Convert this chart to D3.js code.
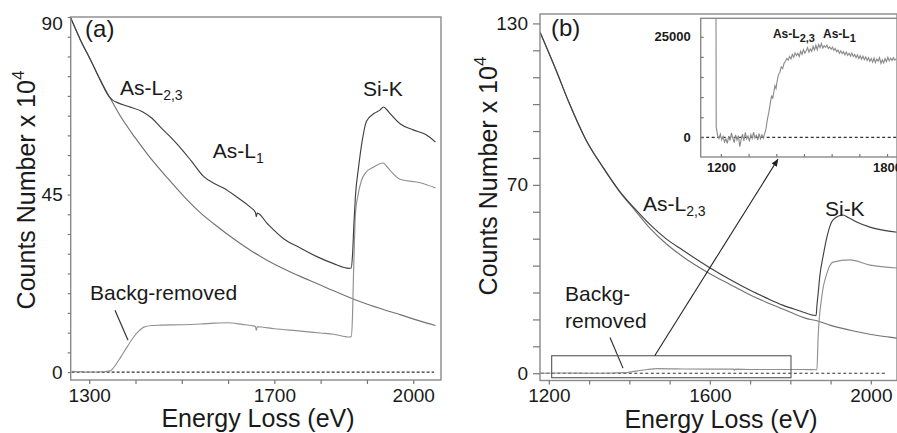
<!DOCTYPE html>
<html>
<head>
<meta charset="utf-8">
<script src="https://cdn.jsdelivr.net/npm/d3@7"></script>
<style>
  body { margin: 0; background: #fff; }
  svg { display: block; }
  text { font-family: Arial, "Liberation Sans", sans-serif; fill: #1a1a1a; }
</style>
</head>
<body>
<div id="chart"></div>
<script>
// ---- panel (a) data: [energy eV, counts x1e4] ----
const rawA = [[1260,89.8],[1281,84.2],[1303,79.1],[1324,74.0],[1343,69.8],[1352,68.8],[1361,68.3],[1385,67.3],
  [1415,66.0],[1435,64.4],[1454,62.1],[1472,60.0],[1490,57.8],[1520,53.6],[1547,49.6],[1570,47.8],[1591,46.6],
  [1620,44.3],[1648,41.8],[1659,40.5],[1661,39.4],[1663,40.3],[1685,37.6],[1720,33.8],[1757,31.4],[1793,29.2],
  [1828,27.5],[1861,26.3],[1866,26.4],[1869,30],[1872,38],[1875,44.4],[1882,52],[1890,58.8],[1899,63.6],
  [1916,65.6],[1928,66.4],[1936,67.2],[1943,66.5],[1951,65.4],[1973,62.8],[2000,61.4],[2027,60.2],[2048,58.3]];
const bgA = [[1260,89.8],[1281,84.2],[1303,79.1],[1324,74.0],[1346,69.3],[1371,64.2],[1398,59.6],[1426,55.2],
  [1469,49.2],[1512,43.6],[1541,40.3],[1580,36.6],[1612,33.8],[1648,30.9],[1685,28.3],[1720,26.2],[1757,24.2],
  [1793,22.4],[1828,20.6],[1865,18.8],[1901,17.2],[1937,15.8],[1973,14.5],[2010,13.1],[2048,11.8]];
const removedA = [[1262,0.2],[1300,0],[1330,0.1],[1345,0.3],[1358,2.0],[1368,3.8],[1382,6.4],[1396,8.9],[1408,10.5],
  [1418,11.4],[1435,11.8],[1454,11.9],[1500,12.0],[1541,12.2],[1570,12.4],[1599,12.5],[1630,12.1],[1659,11.6],
  [1661,10.6],[1663,11.5],[1700,11.0],[1757,10.4],[1800,9.9],[1828,9.6],[1862,8.9],[1866,9.0],[1869,15],[1871,25],
  [1873,33],[1875,39.8],[1881,45],[1888,48.5],[1897,50.5],[1915,52.0],[1935,53.0],[1945,51.8],[1951,51.0],
  [1973,48.8],[2015,48.0],[2048,46.7]];

// ---- panel (b) data ----
const rawB = [[1178,126.8],[1218,112.6],[1250,100.6],[1292,86.8],[1335,76.4],[1375,67.8],[1417,60.6],[1451,55.3],
  [1490,50.1],[1533,45.7],[1600,39.2],[1650,34.8],[1699,30.9],[1740,28.0],[1781,25.3],[1820,23.3],[1856,21.6],
  [1864,21.4],[1866,25],[1870,31],[1873,35.8],[1882,44],[1891,50.7],[1906,57],[1931,58.8],[1945,57.8],
  [1966,56.1],[1998,54.3],[2030,53.2],[2065,52.4]];
const bgB = [[1178,126.8],[1218,112.6],[1250,100.6],[1292,86.8],[1335,76.4],[1375,67.6],[1417,60.0],[1451,53.9],
  [1490,48.3],[1533,43.3],[1600,37.0],[1650,33.0],[1699,29.2],[1740,26.4],[1781,23.9],[1841,20.3],[1866,19.5],
  [1900,17.8],[1960,15.6],[2000,14.4],[2047,13.4],[2065,13.0]];
const removedB = [[1178,0],[1250,0.1],[1300,0],[1360,0.1],[1390,0.2],[1405,0.5],[1420,0.9],[1430,1.1],[1445,1.4],
  [1470,1.7],[1520,1.6],[1600,1.5],[1659,1.5],[1661,1.0],[1663,1.5],[1700,1.4],[1780,1.4],[1830,1.4],[1866,1.3],
  [1869,13.4],[1878,28.3],[1891,37.2],[1906,41.3],[1948,42.1],[1998,40.2],[2065,39.1]];

// ---- inset: background-removed counts (1200-1800 eV) ----
const insetE = [1182,1183,1188,1193,1198,1203,1208,1213,1218,1223,1228,1233,1238,1243,1248,1253,1258,1263,1268,1273,
  1278,1283,1288,1293,1298,1303,1308,1313,1318,1323,1328,1333,1338,1343,1348,1353,1358,1363,1368,1373,1378,1383,
  1387,1391,1395,1399,1403,1408,1413,1418,1423,1428,1433,1438,1443,1448,1453,1458,1463,1468,1473,1478,1483,1488,
  1493,1498,1503,1508,1513,1518,1523,1528,1533,1538,1543,1548,1553,1558,1563,1568,1573,1578,1583,1588,1593,1598,
  1603,1608,1613,1618,1623,1628,1633,1638,1643,1648,1653,1658,1663,1668,1673,1678,1683,1688,1693,1698,1703,1708,
  1713,1718,1723,1728,1733,1738,1743,1748,1753,1758,1763,1768,1773,1778,1783,1788,1793,1798,1803,1808,1813,1818,
  1823,1828,1833];
const insetCounts = [40000,2600,400,-300,800,-600,200,-1200,-400,-1500,300,-800,1100,-200,-1300,600,-700,400,-2300,-600,
  800,-900,1200,-400,300,-1000,700,-300,1300,-200,500,-700,900,-400,600,-200,900,2200,4500,6200,8300,10400,
  9600,11200,12800,12100,14000,15600,16200,17500,17100,18400,18900,19600,19200,20100,19500,20600,19900,21000,20300,20900,20100,21400,
  20600,21800,20900,21500,22300,21200,22000,21400,22600,21700,22900,21800,23100,22300,23300,22200,22800,22400,22900,22100,22500,21900,
  22400,21600,22100,21300,21700,20900,21500,20800,21300,20500,21200,20400,20900,20200,21000,20100,20600,19800,20500,19600,20300,19400,
  20200,19300,20000,19100,19800,18900,19600,18700,19700,18600,19500,18900,19800,18400,19300,18500,19600,18800,19900,19000,19700,19100,
  19800,19200,19500];

// ---- ticks ----
const yTicksA = d3.range(0, 91, 5), yLabelsA = [0, 45, 90];
const xTicksA = d3.range(1300, 2001, 100), xLabelsA = [1300, 1700, 2000];
const yTicksB = d3.range(0, 131, 10), yLabelsB = [0, 70, 130];
const xTicksB = d3.range(1200, 2001, 100), xLabelsB = [1200, 1600, 2000];
const yTicksI = d3.range(0, 25001, 5000), yLabelsI = [0, 25000];
const xTicksI = d3.range(1200, 1801, 100), xLabelsI = [1200, 1800];

const svg = d3.select("#chart").append("svg")
  .attr("width", 897).attr("height", 433)
  .style("background", "#fff");

const xA = d3.scaleLinear([1260, 2060], [70.7, 441]);
const yA = d3.scaleLinear([-2, 90], [380, 17]);
const xB = d3.scaleLinear([1178, 2065], [540, 897]);
const yB = d3.scaleLinear([-2.7, 133.5], [380.5, 14]);
const xI = d3.scaleLinear([1127, 1836], [700.7, 897]);
const yI = d3.scaleLinear([-4900, 29600], [157, 18.3]);

const RAW = "#404040", BG = "#727272", REM = "#909090", FRAME = "#8a8a8a";

function clip(id, x, y) {
  svg.append("clipPath").attr("id", id).append("rect")
    .attr("x", x.range()[0]).attr("y", y.range()[1])
    .attr("width", x.range()[1] - x.range()[0]).attr("height", y.range()[0] - y.range()[1]);
}

function frame(x, y) {
  svg.append("rect")
    .attr("x", x.range()[0]).attr("y", y.range()[1])
    .attr("width", x.range()[1] - x.range()[0]).attr("height", y.range()[0] - y.range()[1])
    .attr("fill", "none").attr("stroke", FRAME).attr("stroke-width", 1.4);
}

function curve(data, x, y, color, clipId, width) {
  svg.append("path").datum(data)
    .attr("clip-path", `url(#${clipId})`)
    .attr("fill", "none").attr("stroke", color).attr("stroke-width", width || 1.15)
    .attr("stroke-linejoin", "round")
    .attr("d", d3.line().x(d => x(d[0])).y(d => y(d[1])).curve(d3.curveMonotoneX));
}

function zeroLine(x, y, e0, e1, dash) {
  svg.append("line")
    .attr("x1", x(e0)).attr("x2", x(e1)).attr("y1", y(0)).attr("y2", y(0))
    .attr("stroke", "#333").attr("stroke-width", 1.2).attr("stroke-dasharray", dash);
}

function axes(x, y, xt, xl, yt, yl, o) {
  const fx = d => xl.includes(d) ? String(d) : "";
  const fy = d => yl.includes(d) ? String(d) : "";
  const gx = svg.append("g").attr("transform", `translate(0,${y.range()[0]})`)
    .call(d3.axisBottom(x).tickValues(xt).tickSize(o.xTick).tickPadding(o.xPad).tickFormat(fx));
  const gy = svg.append("g").attr("transform", `translate(${x.range()[0]},0)`)
    .call(d3.axisLeft(y).tickValues(yt).tickSize(o.yTick).tickPadding(o.yPad).tickFormat(fy));
  [gx, gy].forEach(g => {
    g.select(".domain").remove();
    g.selectAll(".tick line").attr("stroke", "#777").attr("stroke-width", 1.2);
    g.selectAll("text").attr("font-size", o.font).attr("font-weight", o.weight || "normal")
      .attr("fill", "#1a1a1a").attr("font-family", 'Arial, "Liberation Sans", sans-serif');
  });
  return gy;
}

function label(x, y, e, v, main, sub, size, subSize, shift, extra) {
  const t = svg.append("text").attr("x", x(e)).attr("y", y(v)).attr("font-size", size);
  if (extra) extra(t);
  t.append("tspan").text(main);
  if (sub) t.append("tspan").attr("font-size", subSize).attr("dy", shift).text(sub);
  return t;
}

function yTitle(cx, cy) {
  const t = svg.append("text").attr("text-anchor", "middle")
    .attr("transform", `translate(${cx},${cy}) rotate(-90)`).attr("font-size", 25);
  t.append("tspan").text("Counts Number x 10");
  t.append("tspan").attr("font-size", 17).attr("dy", -11).text("4");
}

function xTitle(cx, cy) {
  svg.append("text").attr("text-anchor", "middle").attr("x", cx).attr("y", cy)
    .attr("font-size", 25).text("Energy Loss (eV)");
}

// ================= panel (a) =================
clip("clipA", xA, yA);
zeroLine(xA, yA, 1262, 2045, "3,2");
curve(bgA, xA, yA, BG, "clipA");
curve(removedA, xA, yA, REM, "clipA");
curve(rawA, xA, yA, RAW, "clipA");
frame(xA, yA);
const gyA = axes(xA, yA, xTicksA, xLabelsA, yTicksA, yLabelsA,
  { xTick: 4, xPad: 4.5, yTick: 3, yPad: 5, font: 19 });
gyA.selectAll(".tick").filter(d => d === 90).select("text").attr("y", 6);

label(xA, yA, 1291, 84.9, "(a)", null, 24, 0, 0,
  t => t.attr("font-family", '"Times New Roman", "Liberation Serif", serif'));
label(xA, yA, 1366.5, 70.3, "As-L", "2,3", 21, 14, 5);
label(xA, yA, 1567, 54.3, "As-L", "1", 21, 14, 5);
label(xA, yA, 1891.5, 70.0, "Si-K", null, 21);
label(xA, yA, 1301.7, 18.3, "Backg-removed", null, 21);
svg.append("line")
  .attr("x1", xA(1355.7)).attr("y1", yA(15.7)).attr("x2", xA(1383.8)).attr("y2", yA(8.1))
  .attr("stroke", "#333").attr("stroke-width", 1.2);

yTitle(35, 190);
xTitle(258, 427);

// ================= panel (b) =================
clip("clipB", xB, yB);
zeroLine(xB, yB, 1180, 2041, "3,2.5");
curve(bgB, xB, yB, BG, "clipB");
curve(removedB, xB, yB, REM, "clipB");
curve(rawB, xB, yB, RAW, "clipB");
frame(xB, yB);
axes(xB, yB, xTicksB, xLabelsB, yTicksB, yLabelsB,
  { xTick: 4, xPad: 4.5, yTick: 7, yPad: 5, font: 19 });

label(xB, yB, 1205.3, 125.3, "(b)", null, 24, 0, 0,
  t => t.attr("font-family", '"Times New Roman", "Liberation Serif", serif'));
label(xB, yB, 1433.9, 60.3, "As-L", "2,3", 21, 14, 5);
label(xB, yB, 1886, 58.4, "Si-K", null, 21);
label(xB, yB, 1240, 26.8, "Backg-", null, 21);
label(xB, yB, 1240, 16.7, "removed", null, 21);
svg.append("line")
  .attr("x1", xB(1351.9)).attr("y1", yB(13.3)).attr("x2", xB(1384.2)).attr("y2", yB(1.9))
  .attr("stroke", "#333").attr("stroke-width", 1.2);

// zoom box and arrow to the inset
svg.append("rect")
  .attr("x", xB(1207)).attr("y", yB(6.5))
  .attr("width", xB(1801.6) - xB(1207)).attr("height", yB(-1.66) - yB(6.5))
  .attr("fill", "none").attr("stroke", "#555").attr("stroke-width", 1.1);
svg.append("defs").append("marker").attr("id", "arrow")
  .attr("viewBox", "0 0 10 10").attr("refX", 9).attr("refY", 5)
  .attr("markerWidth", 7).attr("markerHeight", 7).attr("orient", "auto")
  .append("path").attr("d", "M0,1 L10,5 L0,9 Z").attr("fill", "#222");
svg.append("line")
  .attr("x1", xB(1463)).attr("y1", yB(6.5)).attr("x2", xB(1769)).attr("y2", yB(79.5))
  .attr("stroke", "#222").attr("stroke-width", 1.1).attr("marker-end", "url(#arrow)");

yTitle(497, 176);
xTitle(721, 428);

// ================= inset =================
svg.append("rect")
  .attr("x", xI.range()[0]).attr("y", yI.range()[1])
  .attr("width", xI.range()[1] - xI.range()[0]).attr("height", yI.range()[0] - yI.range()[1])
  .attr("fill", "#fff");
clip("clipI", xI, yI);
zeroLine(xI, yI, 1127, 1836, "3,2.5");
svg.append("path").datum(d3.zip(insetE, insetCounts))
  .attr("clip-path", "url(#clipI)")
  .attr("fill", "none").attr("stroke", "#8a8a8a").attr("stroke-width", 1.1)
  .attr("d", d3.line().x(d => xI(d[0])).y(d => yI(d[1])));
frame(xI, yI);
axes(xI, yI, xTicksI, xLabelsI, yTicksI, yLabelsI,
  { xTick: -3, xPad: 6, yTick: -3, yPad: 10, font: 13, weight: "bold" });
label(xI, yI, 1388, 24700, "As-L", "2,3", 12, 11, 4, t => t.attr("font-weight", "bold"));
label(xI, yI, 1568.7, 24700, "As-L", "1", 12, 11, 4, t => t.attr("font-weight", "bold"));
</script>
</body>
</html>
